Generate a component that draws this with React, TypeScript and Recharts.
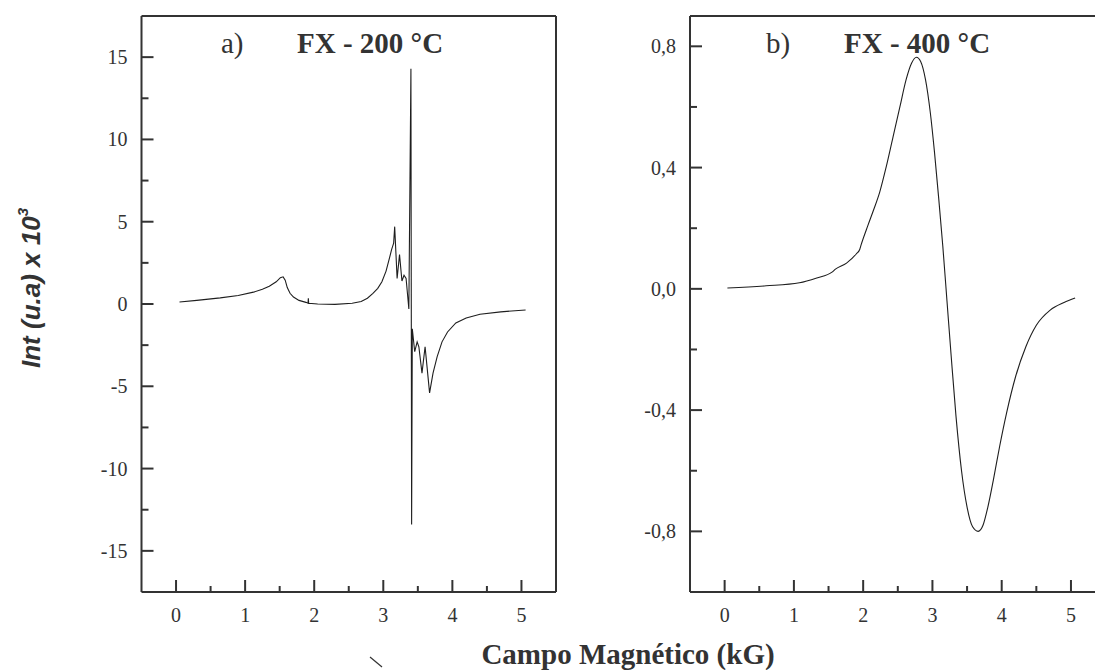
import React from 'react';
import { LineChart, Line, XAxis, YAxis } from 'recharts';

// Panel a) FX - 200 °C
const fieldA = [0.05, 0.3, 0.64, 0.9, 1.12, 1.25, 1.35, 1.45, 1.51, 1.55, 1.58, 1.61, 1.65, 1.7, 1.78, 1.88, 1.91, 1.915, 1.92, 2.05, 2.3, 2.55, 2.68, 2.77, 2.85, 2.92, 2.98, 3.04, 3.09, 3.12, 3.15, 3.165, 3.2, 3.235, 3.27, 3.3, 3.33, 3.37, 3.4, 3.41, 3.42, 3.455, 3.49, 3.515, 3.56, 3.605, 3.67, 3.72, 3.78, 3.85, 3.93, 4.05, 4.2, 4.4, 4.7, 5.06];
const intA = [0.12, 0.22, 0.37, 0.52, 0.72, 0.9, 1.08, 1.35, 1.6, 1.65, 1.45, 1.0, 0.65, 0.42, 0.22, 0.1, 0.05, 0.35, 0.05, 0.0, -0.02, 0.05, 0.15, 0.35, 0.65, 0.95, 1.35, 2.0, 2.8, 3.3, 3.7, 4.7, 1.55, 3.0, 1.4, 1.75, 1.55, -0.3, 14.3, -13.4, -1.5, -2.9, -2.3, -2.6, -4.2, -2.6, -5.4, -4.2, -3.2, -2.3, -1.7, -1.15, -0.85, -0.62, -0.48, -0.36];

// Panel b) FX - 400 °C
const fieldB = [0.04, 0.6, 1.08, 1.33, 1.55, 1.6, 1.76, 1.9, 1.95, 1.97, 2.07, 2.15, 2.24, 2.33, 2.43, 2.53, 2.62, 2.7, 2.77, 2.83, 2.9, 2.97, 3.03, 3.09, 3.15, 3.21, 3.27, 3.34, 3.42, 3.5, 3.58, 3.66, 3.73, 3.8, 3.88, 3.97, 4.07, 4.2, 4.35, 4.5, 4.7, 4.9, 5.06];
const intB = [0.003, 0.01, 0.02, 0.036, 0.055, 0.065, 0.085, 0.115, 0.13, 0.145, 0.21, 0.26, 0.32, 0.4, 0.5, 0.6, 0.69, 0.745, 0.764, 0.75, 0.69, 0.58, 0.45, 0.3, 0.14, -0.04, -0.22, -0.42, -0.6, -0.72, -0.785, -0.8, -0.78, -0.72, -0.63, -0.52, -0.41, -0.29, -0.19, -0.12, -0.07, -0.045, -0.03];

const xTicks = [0, 0.5, 1, 1.5, 2, 2.5, 3, 3.5, 4, 4.5, 5];
const xMajor = [0, 1, 2, 3, 4, 5];
const xDomain = [-0.5, 5.5];

const yTicksA = [-15, -12.5, -10, -7.5, -5, -2.5, 0, 2.5, 5, 7.5, 10, 12.5, 15];
const yMajorA = [-15, -10, -5, 0, 5, 10, 15];
const yDomainA = [-17.5, 17.5];

const yTicksB = [-0.8, -0.6, -0.4, -0.2, 0, 0.2, 0.4, 0.6, 0.8];
const yMajorB = [-0.8, -0.4, 0, 0.4, 0.8];
const yDomainB = [-1.0, 0.9];

const titleA = ['a)', 'FX - 200 °C'];
const titleB = ['b)', 'FX - 400 °C'];
const xLabel = 'Campo Magnético (kG)';

const ink = '#333';
const serif = '"Liberation Serif", "Times New Roman", serif';
const sans = '"Liberation Sans", Arial, sans-serif';

const isIn = (arr: number[], v: number) => arr.some((m) => Math.abs(m - v) < 1e-9);

const makeXTick = (majors: number[]) => (props: any) => {
  const { x, y, payload } = props;
  const v = payload.value;
  const major = isIn(majors, v);
  return (
    <g>
      <line x1={x} x2={x} y1={y} y2={y - (major ? 12 : 6)} stroke={ink} strokeWidth={2} />
      {major && (
        <text x={x} y={y + 30} textAnchor="middle" fontFamily={serif} fontSize={20} fill={ink}>
          {String(v)}
        </text>
      )}
    </g>
  );
};

const makeYTick = (majors: number[], fmt: (v: number) => string) => (props: any) => {
  const { x, y, payload } = props;
  const v = payload.value;
  const major = isIn(majors, v);
  return (
    <g>
      <line x1={x} x2={x + (major ? 12 : 7)} y1={y} y2={y} stroke={ink} strokeWidth={2} />
      {major && (
        <text x={x - 14} y={y + 7} textAnchor="end" fontFamily={serif} fontSize={20} fill={ink}>
          {fmt(v)}
        </text>
      )}
    </g>
  );
};

const fmtA = (v: number) => String(v);
const fmtB = (v: number) => v.toFixed(1).replace('.', ',');

const dataA = fieldA.map((f, i) => ({ f, v: intA[i] }));
const dataB = fieldB.map((f, i) => ({ f, v: intB[i] }));

function Panel(props: {
  data: { f: number; v: number }[];
  left: number;
  width: number;
  plotLeft: number;
  plotRight: number;
  yTicks: number[];
  yMajor: number[];
  yDomain: number[];
  fmt: (v: number) => string;
  curve: 'linear' | 'monotone';
}) {
  const { data, left, width, plotLeft, plotRight, yTicks, yMajor, yDomain, fmt, curve } = props;
  const yW = 60;
  const xH = 30;
  const topH = 10;
  const rightW = 10;
  const margin = {
    top: 16 - topH,
    bottom: 670 - 592 - xH,
    left: plotLeft - yW,
    right: width - plotRight - rightW,
  };
  return (
    <div style={{ position: 'absolute', left, top: 0 }}>
      <LineChart width={width} height={670} data={data} margin={margin}>
        <XAxis
          dataKey="f"
          type="number"
          domain={xDomain}
          ticks={xTicks}
          interval={0}
          height={xH}
          tickSize={0}
          tickMargin={0}
          tickLine={false}
          axisLine={{ stroke: ink, strokeWidth: 2 }}
          tick={makeXTick(xMajor)}
          allowDataOverflow
        />
        <XAxis
          xAxisId="top"
          orientation="top"
          dataKey="f"
          type="number"
          domain={xDomain}
          height={topH}
          tick={false}
          tickLine={false}
          axisLine={{ stroke: ink, strokeWidth: 2 }}
          allowDataOverflow
        />
        <YAxis
          type="number"
          domain={yDomain}
          ticks={yTicks}
          interval={0}
          width={yW}
          tickSize={0}
          tickMargin={0}
          tickLine={false}
          axisLine={{ stroke: ink, strokeWidth: 2 }}
          tick={makeYTick(yMajor, fmt)}
          allowDataOverflow
        />
        <YAxis
          yAxisId="right"
          orientation="right"
          type="number"
          domain={yDomain}
          width={rightW}
          tick={false}
          tickLine={false}
          axisLine={{ stroke: ink, strokeWidth: 2 }}
          allowDataOverflow
        />
        <Line
          type={curve}
          dataKey="v"
          stroke="#1e1e1e"
          strokeWidth={1.1}
          dot={false}
          activeDot={false}
          isAnimationActive={false}
        />
      </LineChart>
    </div>
  );
}

export default function App() {
  return (
    <div
      style={{
        position: 'fixed',
        left: 0,
        top: 0,
        width: 1095,
        height: 670,
        overflow: 'hidden',
        background: '#fff',
      }}
    >
      <Panel
        data={dataA}
        left={0}
        width={600}
        plotLeft={141.5}
        plotRight={556}
        yTicks={yTicksA}
        yMajor={yMajorA}
        yDomain={yDomainA}
        fmt={fmtA}
        curve="linear"
      />
      <Panel
        data={dataB}
        left={600}
        width={530}
        plotLeft={90}
        plotRight={505.6}
        yTicks={yTicksB}
        yMajor={yMajorB}
        yDomain={yDomainB}
        fmt={fmtB}
        curve="monotone"
      />
      <svg
        width={1095}
        height={670}
        style={{ position: 'absolute', left: 0, top: 0, pointerEvents: 'none' }}
      >
        <text x={221} y={53} fontFamily={serif} fontSize={29} fill={ink}>
          {titleA[0]}
        </text>
        <text x={297} y={53} fontFamily={serif} fontSize={29} fontWeight="bold" fill={ink}>
          {titleA[1]}
        </text>
        <text x={766} y={53} fontFamily={serif} fontSize={29} fill={ink}>
          {titleB[0]}
        </text>
        <text x={844} y={53} fontFamily={serif} fontSize={29} fontWeight="bold" fill={ink}>
          {titleB[1]}
        </text>
        <text
          x={40}
          y={0}
          transform="translate(0,288) rotate(-90,40,0)"
          textAnchor="middle"
          fontFamily={sans}
          fontStyle="italic"
          fontWeight="bold"
          fontSize={26}
          fill={ink}
        >
          Int (u.a) x 10
          <tspan dy={-12} fontSize={15}>
            3
          </tspan>
        </text>
        <text x={628} y={664} textAnchor="middle" fontFamily={serif} fontWeight="bold" fontSize={29} fill={ink}>
          {xLabel}
        </text>
        <line x1={370} y1={657} x2={382} y2={667} stroke={ink} strokeWidth={1.2} />
      </svg>
    </div>
  );
}
